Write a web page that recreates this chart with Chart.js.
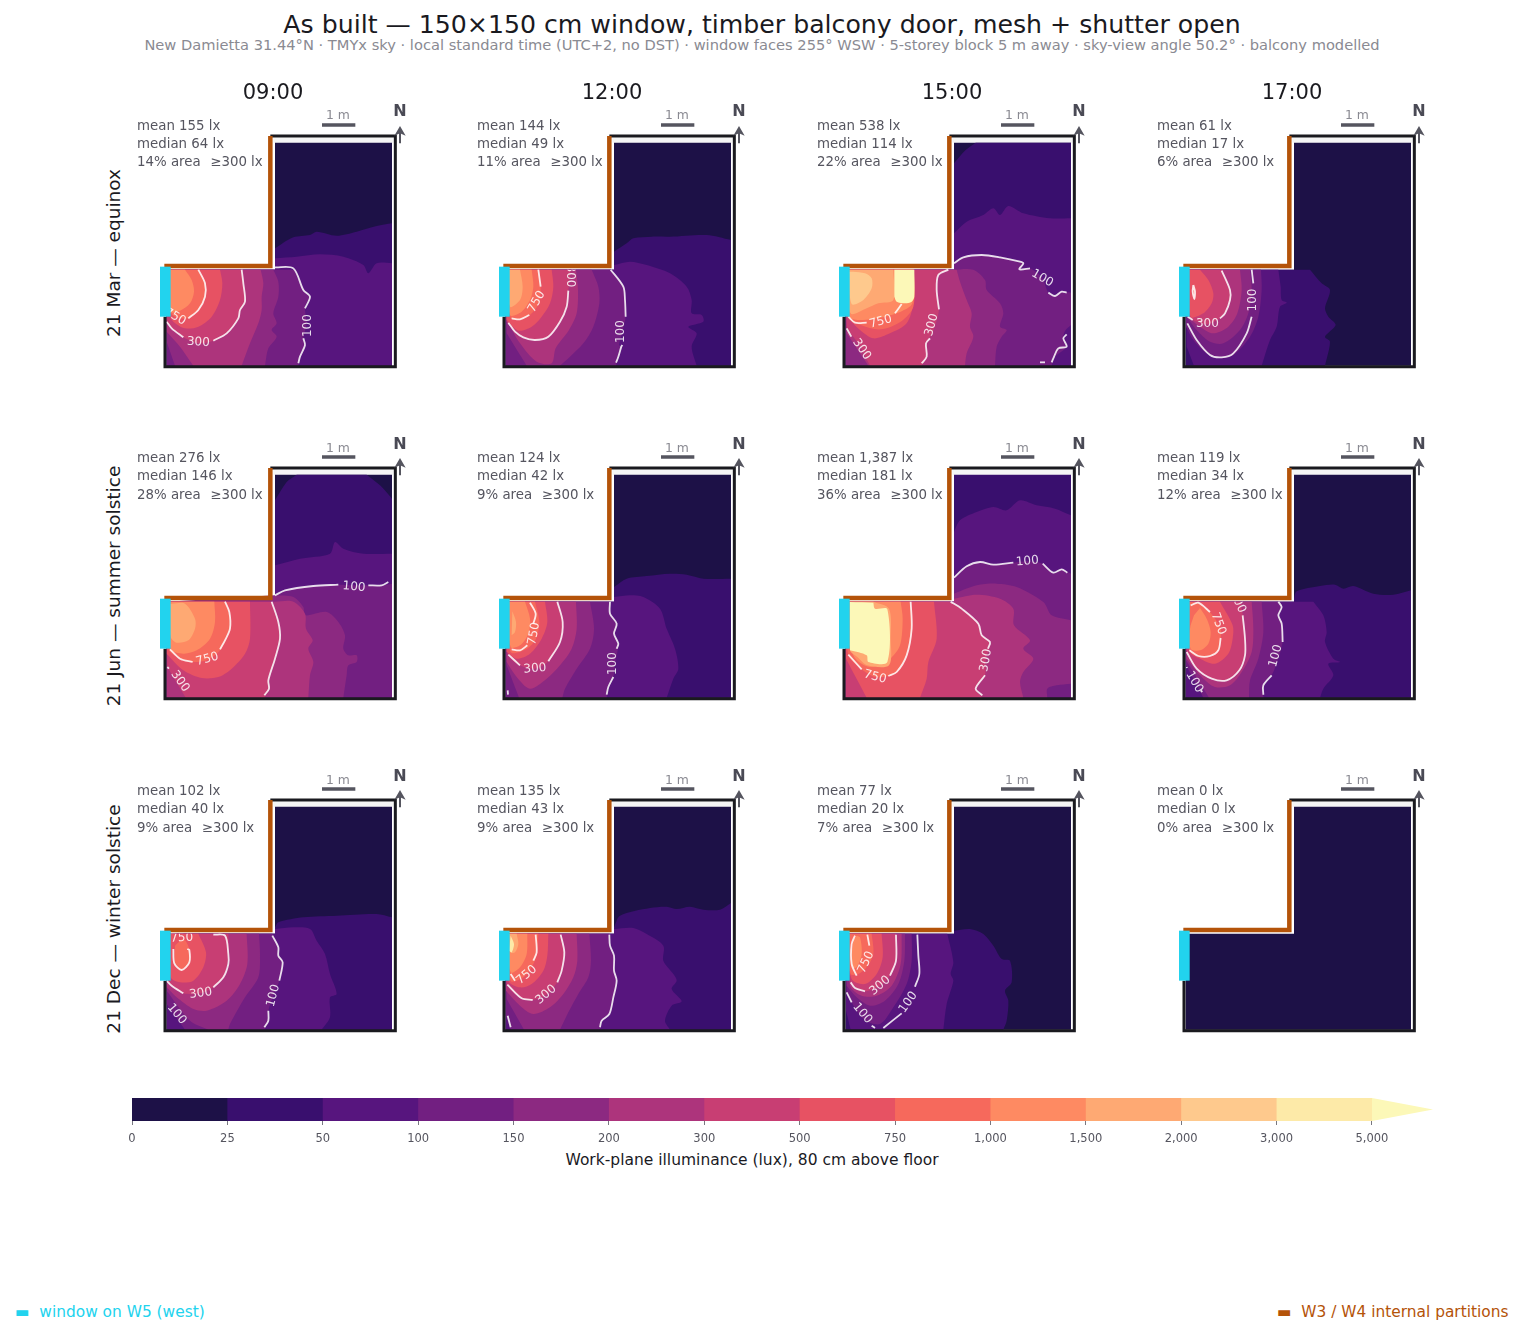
<!DOCTYPE html>
<html><head><meta charset="utf-8">
<script src="https://cdn.jsdelivr.net/npm/chart.js@4"></script>
<style>
html,body{margin:0;padding:0;background:#fff;}
body{position:relative;width:1523px;height:1333px;overflow:hidden;font-family:"DejaVu Sans",sans-serif;}
canvas{position:absolute;}
.t{position:absolute;white-space:pre;line-height:1;transform:translate(-50%,-50%);}
.l{position:absolute;white-space:pre;line-height:1;transform:translateY(-50%);}
</style></head><body>
<script>
const levelEdges=['0','25','50','100','150','200','300','500','750','1,000','1,500','2,000','3,000','5,000'];
const levelColors=['#1d1147','#390f6e','#57157e','#721f81','#8c2981','#ad347c','#c83e73','#e75263','#f6695c','#fe8a62','#fea973','#fec98d','#fdeaa8','#fcf8b8'];
const hours=['09:00','12:00','15:00','17:00'];
const dayNames=['21 Mar — equinox','21 Jun — summer solstice','21 Dec — winter solstice'];
const meanLx=[['155','144','538','61'],['276','124','1,387','119'],['102','135','77','0']];
const medianLx=[['64','49','114','17'],['146','42','181','34'],['40','43','20','0']];
const areaPct=[[14,11,22,6],[28,9,36,12],[9,9,7,0]];
const roomL=[[5,3],[681,3],[681,672],[330,672],[330,291],[5,291]];
const walls=[[316,692],[691,692],[691,0],[0,0],[0,150]];
const partitions=[[-2,302],[316,302],[316,692]];
const windowW5=[[1,150],[1,300]];
const topStrip=[[325,672],[686,672],[686,687],[325,687]];
const scaleBar=[[471,725],[571,725]];
const northShaft=[[705,670],[705,705]];
const northHead=[[688,693],[705,722],[722,693],[705,700]];

const bands_mar_09=[
[1,[[330,355],[385,388],[435,395],[455,405],[515,393],[575,405],[635,422],[681,430],[681,3],[5,3],[5,291],[330,291]]],
[2,[[330,325],[395,330],[465,337],[535,330],[595,305],[610,280],[635,310],[681,310],[681,3],[5,3],[5,291],[330,291]]],
[3,[[390,291],[415,230],[435,210],[420,180],[425,130],[415,85],[420,65],[405,30],[400,3],[5,3],[5,291]]],
[4,[[325,291],[340,255],[340,210],[325,160],[335,130],[320,110],[335,90],[310,55],[300,3],[30,3],[5,75],[5,291]]],
[5,[[287,291],[295,250],[290,210],[290,170],[280,130],[255,70],[230,3],[85,3],[45,60],[5,105],[5,291]]],
[6,[[230,291],[235,250],[240,195],[225,170],[220,145],[185,100],[145,78],[100,70],[55,88],[20,115],[5,135],[5,291]]],
[7,[[165,291],[172,250],[165,200],[140,150],[100,120],[60,115],[25,135],[8,160],[5,291]]],
[8,[[100,291],[120,250],[120,210],[100,170],[70,145],[35,148],[15,165],[5,291]]],
[9,[[60,291],[80,260],[87,225],[75,190],[45,168],[17,165],[5,291]]]];
const lines_mar_09=[
[[330,298],[385,295],[415,230],[435,210],[420,175]],[[415,85],[420,65],[405,30],[400,10]],
[[230,291],[235,250],[240,195],[225,170],[220,145],[185,100],[145,78]],[[55,88],[20,115],[5,135]],
[[100,291],[120,250],[120,210],[100,170],[70,145]]];
const tags_mar_09=[[430,123,'100',-90],[100,73,'300',3],[30,150,'750',30]];

const bands_mar_12=[
[1,[[330,345],[368,370],[388,385],[443,390],[498,390],[608,395],[681,380],[681,3],[5,3],[5,291],[330,291]]],
[2,[[330,305],[378,315],[428,305],[498,280],[548,240],[563,200],[563,160],[593,155],[598,135],[553,120],[578,100],[563,60],[578,3],[5,3],[5,291],[330,291]]],
[3,[[320,291],[358,240],[363,200],[365,150],[355,105],[345,65],[352,60],[343,30],[336,3],[5,3],[5,291]]],
[4,[[263,291],[283,240],[286,190],[268,120],[238,70],[198,30],[168,3],[68,3],[8,100],[5,291]]],
[5,[[216,291],[222,230],[218,160],[195,110],[155,55],[143,10],[98,15],[48,70],[8,140],[5,291]]],
[6,[[200,291],[193,228],[188,180],[168,135],[133,90],[93,80],[58,88],[33,105],[8,135],[5,291]]],
[7,[[143,291],[148,240],[138,190],[113,150],[83,120],[43,108],[8,140],[5,291]]],
[8,[[103,291],[110,240],[105,190],[78,155],[48,142],[20,145],[5,291]]],
[9,[[83,291],[88,240],[78,200],[53,165],[18,155],[5,291]]],
[10,[[48,291],[56,240],[48,200],[18,180],[5,291]]]];
const lines_mar_12=[
[[320,291],[358,240],[363,200],[365,150]],[[355,65],[352,60],[343,30],[336,12]],
[[193,228],[188,180],[168,135],[133,90],[93,80],[58,88],[33,105],[13,132]],
[[103,291],[110,240]],[[76,155],[48,142],[23,145]]];
const tags_mar_12=[[350,105,'100',-90],[198,272,'300',90],[98,195,'750',-60]];

const bands_mar_15=[
[1,[[330,610],[365,650],[395,672],[681,672],[681,3],[5,3],[5,291],[330,291]]],
[2,[[330,400],[368,435],[418,455],[448,475],[468,455],[493,482],[538,460],[618,445],[681,445],[681,3],[5,3],[5,291],[330,291]]],
[3,[[330,310],[358,328],[413,335],[468,328],[528,315],[538,310],[528,290],[558,295],[595,265],[613,222],[633,212],[653,225],[681,222],[681,125],[665,110],[658,90],[668,60],[633,30],[623,3],[5,3],[5,291],[330,291]]],
[4,[[328,291],[388,291],[423,260],[428,230],[468,190],[478,160],[468,120],[488,110],[473,90],[458,60],[453,3],[5,3],[5,291]]],
[5,[[338,291],[348,255],[368,200],[383,160],[378,120],[388,90],[368,40],[363,3],[73,3],[8,100],[5,291]]],
[6,[[313,291],[283,275],[278,230],[285,172],[265,100],[246,70],[248,30],[233,3],[78,3],[45,65],[8,115],[5,291]]],
[7,[[210,291],[208,190],[188,130],[138,100],[88,85],[48,110],[8,150],[5,291]]],
[8,[[210,291],[208,180],[170,135],[110,112],[50,125],[12,150],[5,291]]],
[9,[[208,291],[205,190],[170,165],[100,145],[50,140],[17,150],[5,291]]],
[10,[[148,291],[148,200],[103,190],[68,175],[20,160],[5,291]]],
[11,[[28,285],[63,280],[83,265],[83,235],[58,200],[23,188],[15,285]]],
[13,[[151,291],[211,291],[211,210],[203,195],[183,190],[158,195],[151,210]]]];
const lines_mar_15=[
[[330,310],[358,328],[413,335],[468,328],[528,315],[538,310],[526,292],[558,295]],[[613,222],[633,212],[653,225],[668,222]],
[[668,97],[658,85],[668,60],[643,55],[628,25],[623,13]],[[588,13],[603,13]],
[[313,291],[283,275],[278,230],[285,172]],[[258,85],[246,70],[248,30],[233,10]],[[8,115],[22,90]],
[[173,188],[153,160]],[[68,132],[33,132],[13,150]]];
const tags_mar_15=[[595,265,'100',30],[263,125,'300',-75],[53,52,'300',55],[110,135,'750',-15]];

const bands_mar_17=[
[1,[[378,291],[413,250],[438,230],[423,175],[433,150],[455,125],[423,90],[438,75],[423,3],[5,3],[5,291]]],
[2,[[283,291],[290,240],[293,200],[308,192],[288,180],[278,120],[258,80],[233,3],[30,3],[8,60],[5,291]]],
[3,[[231,291],[233,230],[223,150],[198,90],[148,35],[108,25],[68,40],[28,80],[6,120],[5,291]]],
[4,[[198,291],[203,230],[193,160],[168,110],[118,70],[78,75],[38,110],[8,150],[5,291]]],
[5,[[168,291],[173,230],[160,160],[133,120],[88,100],[48,120],[18,150],[5,291]]],
[6,[[113,291],[138,230],[138,200],[123,160],[108,145],[70,127],[26,140],[11,150],[5,291]]],
[7,[[48,291],[73,260],[88,220],[83,190],[58,160],[20,150],[5,291]]],
[8,[[28,245],[33,225],[31,203],[26,225]]]];
const lines_mar_17=[
[[203,291],[208,250]],[[203,150],[188,100],[148,40],[113,28],[78,35],[38,80],[10,130]],
[[113,288],[138,230],[138,200],[123,160],[108,145]],[[26,140],[11,150]],
[[28,245],[33,225],[31,203],[26,225],[28,245]]];
const tags_mar_17=[[208,200,'100',-90],[70,127,'300',0]];

const bands_jun_09=[
[1,[[330,595],[365,650],[395,672],[605,672],[645,640],[681,600],[681,3],[5,3],[5,291],[330,291]]],
[2,[[330,400],[405,420],[495,435],[510,470],[535,450],[595,435],[681,435],[681,3],[5,3],[5,291],[330,291]]],
[3,[[330,310],[360,325],[445,338],[520,342],[565,340],[610,340],[650,340],[681,345],[681,3],[5,3],[5,291],[330,291]]],
[4,[[328,310],[385,305],[415,275],[420,250],[485,260],[520,230],[540,190],[535,150],[550,130],[575,130],[575,110],[550,100],[545,70],[535,3],[5,3],[5,291]]],
[5,[[330,291],[385,291],[420,255],[423,210],[443,175],[430,150],[445,110],[435,70],[430,3],[5,3],[5,291]]],
[6,[[320,291],[340,230],[345,180],[330,120],[310,55],[312,30],[298,3],[62,3],[7,95],[5,291]]],
[7,[[255,291],[255,180],[240,135],[200,90],[160,65],[110,62],[55,85],[5,135],[5,291]]],
[8,[[180,291],[193,260],[195,210],[165,145],[125,115],[80,110],[45,120],[10,150],[5,291]]],
[9,[[148,291],[150,230],[135,180],[95,145],[55,135],[17,150],[5,291]]],
[10,[[20,285],[60,285],[90,240],[90,210],[70,175],[35,168],[17,185],[5,285]]]];
const lines_jun_09=[
[[330,310],[360,325],[445,338],[520,342]],[[610,340],[650,340],[670,350]],
[[320,291],[340,230],[345,180],[330,120],[310,55],[312,30],[298,10]],[[7,95],[12,90]],
[[180,291],[193,260],[195,210],[180,175],[165,148]],[[83,110],[45,120],[15,148]]];
const tags_jun_09=[[567,335,'100',5],[45,52,'300',55],[127,118,'750',-15]];

const bands_jun_12=[
[1,[[330,335],[368,360],[428,368],[498,375],[548,372],[598,360],[681,360],[681,3],[5,3],[5,291],[330,291]]],
[2,[[330,305],[378,310],[418,305],[468,270],[488,210],[513,150],[523,90],[508,60],[488,3],[5,3],[5,291],[330,291]]],
[3,[[318,291],[318,255],[338,225],[330,195],[343,165],[333,105],[328,65],[313,35],[308,3],[5,3],[5,291]]],
[4,[[258,291],[270,210],[258,150],[218,90],[183,30],[175,3],[45,3],[8,100],[5,291]]],
[5,[[216,291],[218,210],[203,150],[168,100],[128,60],[78,30],[38,65],[8,110],[5,291]]],
[6,[[160,291],[176,230],[168,170],[133,112],[93,90],[48,100],[13,132],[5,291]]],
[7,[[123,291],[130,230],[113,180],[78,135],[38,120],[8,140],[5,291]]],
[8,[[93,291],[106,230],[96,180],[68,150],[20,140],[5,291]]],
[9,[[63,291],[78,240],[73,195],[48,160],[20,155],[5,291]]],
[10,[[25,262],[36,230],[33,200],[23,190]]]];
const lines_jun_12=[
[[318,291],[318,255],[338,225],[330,195],[343,165],[338,150]],[[328,65],[313,35],[308,12]],
[[160,291],[176,230],[168,170],[133,112]],[[48,100],[13,132]],
[[78,288],[95,255],[88,225]],[[70,160],[48,145],[23,148]],[[11,25],[12,12]]];
const tags_jun_12=[[328,105,'100',-90],[93,90,'300',-5],[90,195,'750',-80]];

const bands_jun_15=[
[2,[[330,500],[348,535],[398,560],[448,575],[488,565],[528,595],[578,580],[633,570],[681,550],[681,3],[5,3],[5,291],[330,291]]],
[3,[[330,363],[368,397],[408,410],[448,402],[508,408],[550,412],[596,405],[628,378],[653,388],[681,375],[681,3],[5,3],[5,291],[330,291]]],
[4,[[330,315],[398,340],[458,345],[518,335],[598,290],[623,250],[681,235],[681,45],[638,40],[610,30],[610,3],[5,3],[5,291],[330,291]]],
[5,[[330,300],[398,312],[468,300],[508,270],[510,220],[558,175],[538,150],[568,120],[538,80],[528,50],[538,3],[5,3],[5,291],[330,291]]],
[6,[[318,291],[353,270],[403,225],[413,190],[438,170],[425,115],[423,70],[395,30],[415,3],[5,3],[5,291]]],
[7,[[270,291],[278,180],[253,110],[248,60],[228,3],[68,3],[6,120],[5,291]]],
[8,[[200,291],[203,210],[188,130],[158,80],[133,68],[93,65],[53,88],[13,132],[5,291]]],
[9,[[170,291],[176,240],[168,160],[138,120],[78,95],[28,130],[5,291]]],
[10,[[88,291],[135,270],[140,180],[135,100],[70,100],[40,125],[18,145],[5,291]]],
[13,[[18,290],[88,288],[93,270],[130,268],[130,110],[73,110],[68,130],[18,145]]]];
const lines_jun_15=[
[[330,363],[368,397],[408,410],[448,402],[508,408]],[[596,405],[628,378],[653,388],[670,378]],
[[320,291],[353,270],[403,225],[413,190],[438,170],[432,150]],[[423,70],[395,30],[415,10]],
[[200,291],[203,210],[188,130],[158,80],[133,68]],[[53,88],[13,132]]];
const tags_jun_15=[[426,115,'300',-80],[93,65,'750',15],[550,412,'100',-5]];

const bands_jun_17=[
[1,[[330,300],[338,322],[408,338],[453,342],[478,330],[508,338],[568,315],[628,312],[681,325],[681,3],[5,3],[5,291],[330,291]]],
[2,[[388,291],[418,250],[428,200],[423,170],[448,120],[468,110],[433,105],[448,70],[418,30],[408,3],[5,3],[5,291]]],
[3,[[283,291],[293,275],[283,250],[293,225],[296,170],[268,80],[238,40],[238,3],[58,3],[6,100],[5,291]]],
[4,[[233,291],[238,200],[223,120],[198,55],[195,3],[75,3],[6,115],[5,291]]],
[5,[[203,291],[208,210],[203,140],[173,80],[138,40],[93,35],[53,65],[8,120],[5,291]]],
[6,[[170,291],[176,250],[183,180],[183,130],[166,85],[128,55],[83,60],[38,90],[8,140],[5,291]]],
[7,[[108,291],[146,220],[146,180],[133,135],[93,105],[48,120],[18,140],[5,291]]],
[8,[[43,288],[78,260],[110,210],[110,182],[103,145],[78,128],[43,128],[16,145],[5,291]]],
[9,[[48,272],[68,240],[80,200],[73,165],[48,145],[20,150],[18,210],[30,250]]]];
const lines_jun_17=[
[[283,291],[293,275],[283,250],[293,225],[296,170]],[[263,70],[238,40],[238,12]],[[8,95],[9,92]],[[50,25],[55,20]],
[[176,250],[183,180],[183,130],[166,85],[128,55],[83,60],[38,90],[8,140]],
[[20,280],[43,288],[78,260]],[[110,182],[103,145],[78,128],[43,128],[16,145]]];
const tags_jun_17=[[275,128,'100',-75],[31,50,'100',60],[161,290,'300',65],[103,225,'750',70]];

const bands_dec_09=[
[1,[[330,310],[340,325],[415,340],[515,345],[635,350],[681,340],[681,3],[5,3],[5,291],[330,291]]],
[2,[[330,305],[385,310],[435,305],[455,270],[480,230],[495,170],[515,110],[495,100],[495,40],[470,3],[5,3],[5,291],[330,291]]],
[3,[[322,291],[340,250],[340,225],[353,205],[343,150],[325,105],[310,60],[310,30],[298,3],[60,3],[5,80],[5,291]]],
[4,[[282,291],[285,230],[280,160],[240,100],[195,20],[190,3],[130,3],[75,30],[5,120],[5,291]]],
[5,[[245,291],[247,200],[225,140],[185,90],[125,60],[85,65],[35,100],[5,130],[5,291]]],
[6,[[190,291],[190,220],[175,160],[145,130],[107,112],[55,112],[20,135],[5,150],[5,291]]],
[7,[[100,291],[123,235],[115,190],[85,150],[45,145],[17,160],[5,291]]],
[8,[[30,255],[55,275],[73,245],[73,205],[50,182],[28,202]]]];
const lines_dec_09=[
[[322,285],[340,250],[340,225],[353,205],[343,150]],[[310,60],[310,30],[298,10]],
[[145,288],[180,285],[190,230],[190,200],[175,160],[145,130]],[[55,112],[20,135],[5,150]],
[[25,245],[28,202],[50,182],[73,205],[73,242],[67,245]]];
const tags_dec_09=[[325,105,'100',-75],[35,50,'100',50],[107,112,'300',-8],[50,278,'750',-3]];

const bands_dec_12=[
[1,[[330,310],[348,345],[438,368],[488,372],[518,365],[558,372],[598,363],[648,363],[681,383],[681,3],[5,3],[5,291],[330,291]]],
[2,[[330,305],[388,308],[428,290],[478,255],[478,210],[508,170],[518,150],[503,125],[533,88],[503,75],[483,30],[498,3],[5,3],[5,291],[330,291]]],
[3,[[316,291],[318,255],[330,225],[330,180],[338,150],[328,100],[316,50],[293,30],[288,3],[20,3],[5,45],[5,291]]],
[4,[[256,291],[261,210],[253,160],[223,110],[193,55],[168,3],[60,3],[8,95],[5,291]]],
[5,[[218,291],[220,210],[208,160],[178,110],[138,70],[88,50],[48,75],[6,120],[5,291]]],
[6,[[170,291],[181,235],[173,180],[160,145],[126,108],[86,92],[53,97],[10,138],[5,291]]],
[7,[[133,291],[130,225],[118,180],[83,140],[48,130],[13,150],[5,291]]],
[8,[[103,291],[98,230],[88,200],[58,160],[20,150],[5,291]]],
[9,[[70,291],[68,230],[48,190],[20,175],[5,291]]],
[10,[[38,291],[43,260],[33,235],[20,235],[5,291]]],
[12,[[20,285],[30,260],[23,235],[15,240]]]];
const lines_dec_12=[
[[316,288],[318,255],[330,225],[330,180],[338,150],[328,100],[316,50],[293,30],[288,10]],[[11,45],[20,10]],
[[170,288],[181,235],[173,180],[160,145]],[[86,92],[53,97],[10,138]],
[[95,288],[98,235],[88,210]],[[33,150],[20,170]]];
const tags_dec_12=[[126,108,'300',-40],[68,167,'750',-40]];

const bands_dec_15=[
[1,[[330,300],[378,305],[418,290],[448,255],[473,215],[498,210],[503,145],[483,120],[493,90],[488,30],[478,3],[5,3],[5,291],[330,291]]],
[2,[[310,291],[328,205],[320,170],[328,150],[308,80],[298,3],[20,3],[6,60],[5,291]]],
[3,[[203,291],[203,210],[188,140],[148,70],[108,20],[58,35],[8,110],[5,291]]],
[4,[[183,291],[181,210],[163,140],[123,90],[78,75],[38,100],[8,135],[5,291]]],
[5,[[173,291],[170,200],[143,135],[98,105],[53,105],[18,135],[5,291]]],
[6,[[156,291],[156,210],[138,165],[108,135],[63,118],[33,128],[20,145],[5,291]]],
[7,[[113,291],[116,220],[98,170],[63,140],[23,155],[5,291]]],
[8,[[83,291],[88,230],[68,190],[43,170],[20,170],[5,291]]],
[9,[[38,285],[48,280],[53,230],[38,190],[26,190],[23,230],[28,270]]]];
const lines_dec_15=[
[[70,288],[76,255]],[[38,165],[23,200],[23,260],[33,285]],
[[220,288],[223,225],[226,170],[213,132]],[[173,52],[118,8]],[[93,8],[83,15]],[[23,85],[8,115]],
[[156,288],[156,210],[138,165]],[[63,118],[33,128],[20,145]]];
const tags_dec_15=[[66,205,'750',-65],[193,85,'100',-55],[55,52,'100',50],[108,135,'300',-40]];

const panelBands=[[bands_mar_09,bands_mar_12,bands_mar_15,bands_mar_17],[bands_jun_09,bands_jun_12,bands_jun_15,bands_jun_17],[bands_dec_09,bands_dec_12,bands_dec_15,[]]];
const panelLines=[[lines_mar_09,lines_mar_12,lines_mar_15,lines_mar_17],[lines_jun_09,lines_jun_12,lines_jun_15,lines_jun_17],[lines_dec_09,lines_dec_12,lines_dec_15,[]]];
const panelTags=[[tags_mar_09,tags_mar_12,tags_mar_15,tags_mar_17],[tags_jun_09,tags_jun_12,tags_jun_15,tags_jun_17],[tags_dec_09,tags_dec_12,tags_dec_15,[]]];
const panelBase=[[0,0,0,0],[0,0,1,0],[0,0,0,0]];

const colX=[165,504,844,1184], rowTop=[113,445,777], statX=[137,477,817,1157];
function pts(a){return a.map(p=>({x:p[0],y:p[1]}));}
function onEdge(p){return p[0]<=8||p[0]>=680||p[1]<=5||p[1]>=670||(p[1]>=288&&p[0]<=330)||p[0]===330;}
function ptsSharp(a){const o=[];a.forEach(p=>{o.push({x:p[0],y:p[1]});if(onEdge(p))o.push({x:p[0],y:p[1]});});return o;}
function shape(a,color){return {data:pts(a),showLine:true,fill:'shape',backgroundColor:color,borderWidth:0,pointRadius:0,tension:0};}
function band(a,color){return {data:ptsSharp(a),showLine:true,fill:'shape',backgroundColor:color,borderWidth:0,pointRadius:0,tension:0.3};}
function stroke(a,color,w,t){return {data:pts(a),showLine:true,fill:false,borderColor:color,borderWidth:w,pointRadius:0,tension:t||0,borderCapStyle:'butt',borderJoinStyle:t?'round':'miter'};}
function txt(cls,s,x,y,size,color,extra){const d=document.createElement('div');d.className=cls;d.textContent=s;d.style.left=x+'px';d.style.top=y+'px';d.style.fontSize=size+'px';d.style.color=color;if(extra)Object.assign(d.style,extra);document.body.appendChild(d);return d;}

const tagPlugin={id:'contourTags',afterDatasetDraw(chart,args,opts){
  if(args.index!==opts.lastIndex)return;
  const ctx=chart.ctx,X=chart.scales.x,Y=chart.scales.y;
  ctx.save();ctx.beginPath();
  roomL.forEach((p,i)=>{const px=X.getPixelForValue(p[0]),py=Y.getPixelForValue(p[1]);i?ctx.lineTo(px,py):ctx.moveTo(px,py);});
  ctx.closePath();ctx.clip();
  ctx.font='12px "DejaVu Sans"';ctx.fillStyle='rgba(255,255,255,0.85)';ctx.textAlign='center';ctx.textBaseline='middle';
  opts.tags.forEach(t=>{ctx.save();ctx.translate(X.getPixelForValue(t[0]),Y.getPixelForValue(t[1]));ctx.rotate(t[3]*Math.PI/180);ctx.fillText(t[2],0,0);ctx.restore();});
  ctx.restore();
}};

for(let r=0;r<3;r++)for(let c=0;c<4;c++){
  const ds=[];
  ds.push(shape(topStrip,'#f5f5f5'));
  ds.push(shape(roomL,levelColors[panelBase[r][c]]));
  panelBands[r][c].forEach(b=>ds.push(band(b[1],levelColors[b[0]])));
  panelLines[r][c].forEach(l=>ds.push(stroke(l,'rgba(255,255,255,0.85)',1.8,0.3)));
  const lastIndex=ds.length-1;
  ds.push(stroke(walls,'#1a1a1f',3));
  ds.push(stroke(partitions,'#b45309',4.5));
  ds.push(stroke(windowW5,'#22d3ee',10.7));
  ds.push(stroke(scaleBar,'#55555f',3.3));
  ds.push(stroke(northShaft,'#55555f',2));
  ds.push(shape(northHead,'#55555f'));
  ds.forEach((d,i)=>{d.order=ds.length-i;});
  const cv=document.createElement('canvas');
  cv.width=260;cv.height=260;cv.style.left=(colX[c]-10)+'px';cv.style.top=rowTop[r]+'px';cv.style.width='260px';cv.style.height='260px';
  document.body.appendChild(cv);
  new Chart(cv,{type:'scatter',data:{datasets:ds},plugins:[tagPlugin],options:{
    responsive:false,devicePixelRatio:1,animation:false,parsing:false,normalized:true,events:[],
    layout:{padding:0},
    plugins:{legend:{display:false},tooltip:{enabled:false},title:{display:false},contourTags:{tags:panelTags[r][c],lastIndex}},
    scales:{x:{type:'linear',display:false,min:-30,max:750},y:{type:'linear',display:false,min:-19,max:761}}
  }});
  const x=statX[c], y=[126,458,791][r], dy=18;
  txt('l','mean '+meanLx[r][c]+' lx',x,y,13.35,'#55555f');
  txt('l','median '+medianLx[r][c]+' lx',x,y+dy,13.35,'#55555f');
  txt('l',areaPct[r][c]+'% area \u2009\u2009≥300 lx',x,y+dy*2+(r?1:0),13.35,'#55555f');
  txt('t','1 m',colX[c]+173,[115,448,780][r],12.4,'#8a8a92');
  txt('t','N',colX[c]+235,[111,444,776][r],16,'#4a4a55',{fontWeight:'bold'});
}
hours.forEach((h,c)=>txt('t',h,[273,612,952,1292][c],92,21,'#1a1a1f'));
dayNames.forEach((d,r)=>txt('t',d,114,[253,586,919][r],18.5,'#1a1a1f',{transform:'translate(-50%,-50%) rotate(-90deg)'}));
txt('t','As built — 150×150 cm window, timber balcony door, mesh + shutter open',762,25,25.2,'#1a1a1f');
txt('t','New Damietta 31.44°N · TMYx sky · local standard time (UTC+2, no DST) · window faces 255° WSW · 5-storey block 5 m away · sky-view angle 50.2° · balcony modelled',762,45,14.65,'#8a8a92');
txt('l','▬  window on W5 (west)',15,1312.5,15.4,'#22d3ee');
txt('l','▬  W3 / W4 internal partitions',1277,1312.5,15.4,'#b45309');
txt('t','Work-plane illuminance (lux), 80 cm above floor',752,1161,15.5,'#1a1a1f');

const barData=levelColors.map((col,i)=>i<13?shape([[i,0],[13,0],[13,1],[i,1]],col):shape([[13,0],[13.64,0.5],[13,1]],col));
barData.forEach((d,i)=>{d.order=barData.length-i;});
const cb=document.createElement('canvas');cb.width=1350;cb.height=85;cb.style.left='100px';cb.style.top='1090px';cb.style.width='1350px';cb.style.height='85px';document.body.appendChild(cb);
new Chart(cb,{type:'scatter',data:{datasets:barData},options:{
  responsive:false,devicePixelRatio:1,animation:false,parsing:false,events:[],
  layout:{padding:{left:32,right:17,top:8,bottom:0}},
  plugins:{legend:{display:false},tooltip:{enabled:false}},
  scales:{
    y:{type:'linear',display:false,min:0,max:1},
    x:{type:'linear',min:0,max:13.64,afterFit(s){s.height=54;},
      border:{display:false},grid:{drawOnChartArea:false,drawTicks:true,tickLength:4,color:'#55555f',tickWidth:0.8},
      ticks:{stepSize:1,includeBounds:false,autoSkip:false,maxRotation:0,padding:7,color:'#55555f',font:{family:'"DejaVu Sans"',size:11.5},callback:v=>levelEdges[v]}
    }
  }
}});
</script>
</body></html>
